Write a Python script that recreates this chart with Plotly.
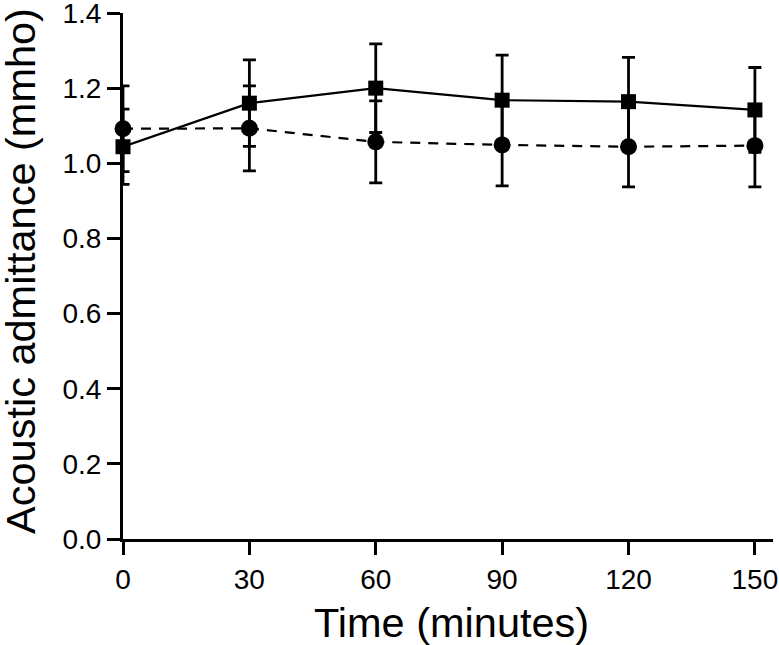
import plotly.graph_objects as go

# Data
time_min = [0, 30, 60, 90, 120, 150]
square_vals = [1.044, 1.160, 1.200, 1.168, 1.164, 1.142]
square_err = [0.100, 0.115, 0.118, 0.120, 0.118, 0.113]
circle_vals = [1.092, 1.093, 1.057, 1.049, 1.044, 1.047]
circle_err = [0.114, 0.113, 0.109, 0.109, 0.107, 0.110]
y_ticks = [0.0, 0.2, 0.4, 0.6, 0.8, 1.0, 1.2, 1.4]

fig = go.Figure()

# Squares, solid line
fig.add_trace(go.Scatter(
    x=time_min, y=square_vals,
    mode='lines+markers',
    line=dict(color='black', width=2.2),
    marker=dict(symbol='square', size=15, color='black'),
    error_y=dict(type='data', array=square_err, color='black', thickness=2.8, width=6.5),
    cliponaxis=False,
    showlegend=False
))

# Circles, dashed line
fig.add_trace(go.Scatter(
    x=time_min, y=circle_vals,
    mode='lines+markers',
    line=dict(color='black', width=2.2, dash='10px,8px'),
    marker=dict(symbol='circle', size=17, color='black'),
    error_y=dict(type='data', array=circle_err, color='black', thickness=2.8, width=6.5),
    cliponaxis=False,
    showlegend=False
))

fig.update_layout(
    width=779, height=645,
    margin=dict(l=123, r=6, t=13, b=106),
    plot_bgcolor='white', paper_bgcolor='white',
    font=dict(family='Liberation Sans, Arial, sans-serif', color='black'),
    xaxis=dict(
        range=[0, 154.3],
        tickvals=[0, 30, 60, 90, 120, 150],
        showline=True, linecolor='black', linewidth=3,
        ticks='outside', ticklen=13, tickwidth=3, tickcolor='black',
        showgrid=False, zeroline=False,
        tickfont=dict(size=28),
        ticklabeloverflow='allow',
        automargin=False,
        layer='below traces'
    ),
    yaxis=dict(
        range=[0, 1.4],
        tickvals=y_ticks, tickformat='.1f',
        showline=True, linecolor='black', linewidth=3,
        ticks='outside', ticklen=13, tickwidth=3, tickcolor='black',
        showgrid=False, zeroline=False,
        tickfont=dict(size=28),
        ticklabeloverflow='allow',
        automargin=False,
        layer='below traces'
    ),
    annotations=[
        dict(text='Time (minutes)', xref='paper', yref='paper', x=0.505, y=-0.158,
             xanchor='center', yanchor='middle', showarrow=False, font=dict(size=41.5)),
        dict(text='Acoustic admittance (mmho)', xref='paper', yref='paper', x=-0.1586, y=0.5095,
             xanchor='center', yanchor='middle', textangle=-90, showarrow=False,
             font=dict(size=41.5)),
    ]
)

# drop the default 8px body margin so the figure fills the window
fig.write_html("out.html", config={'displayModeBar': False},
               post_script="document.body.style.margin='0';")
